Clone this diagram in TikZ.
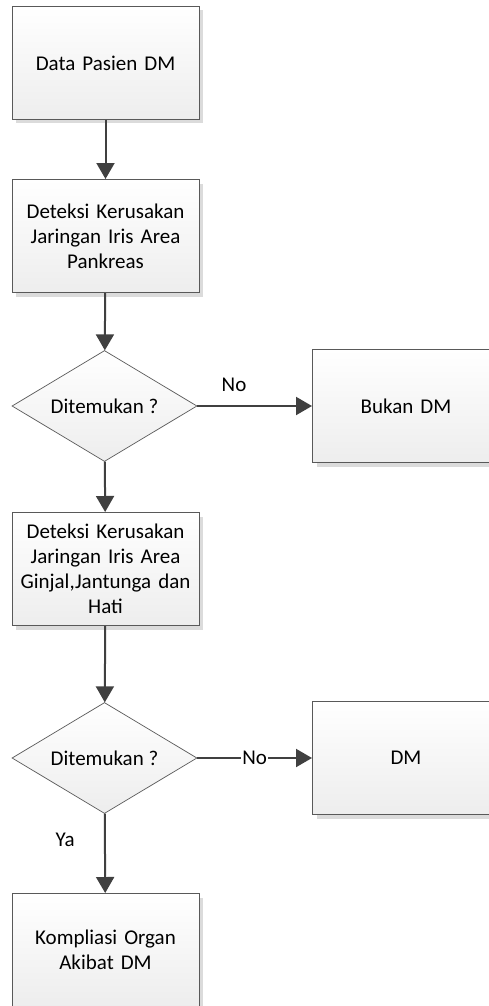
\documentclass[tikz,border=0pt]{standalone}
\usepackage{fontspec}
\setmainfont{Carlito}
\usetikzlibrary{shapes.geometric,shadows,arrows.meta}

\definecolor{garis}{RGB}{89,89,89}
\definecolor{panah}{RGB}{64,64,64}

\tikzset{
  proses/.style={rectangle, draw=garis, line width=1pt, top color=white, bottom color=black!7,
    minimum width=187pt, minimum height=113pt, inner sep=2pt, align=center, text width=180pt,
    font=\fontsize{21}{25}\selectfont,
    drop shadow={shadow xshift=4pt, shadow yshift=-4pt, fill=black!14, opacity=1}},
  keputusan/.style={diamond, draw=garis, line width=0.7pt, top color=white, bottom color=black!7,
    minimum width=185pt, minimum height=111pt, aspect=1.67, inner sep=0pt,
    font=\fontsize{21}{25}\selectfont},
  alur/.style={draw=panah, line width=2pt, -{Triangle[width=18pt,length=16pt]}},
  label/.style={font=\fontsize{21}{25}\selectfont}
}

\begin{document}
\begin{tikzpicture}[x=1pt,y=-1pt]
  \clip (0,0) rectangle (489,1006);
  \useasboundingbox (0,0) rectangle (489,1006);

  % Nodes
  \node[proses] (data) at (105.5,63) {Data Pasien DM};
  \node[proses] (deteksiA) at (105.5,236) {Deteksi Kerusakan\\Jaringan Iris Area\\Pankreas};
  \node[keputusan] (cekA) at (104.5,406) {Ditemukan ?};
  \node[proses] (bukan) at (406,406) {Bukan DM};
  \node[proses] (deteksiB) at (105.5,569) {Deteksi Kerusakan\\Jaringan Iris Area\\Ginjal,Jantunga dan\\Hati};
  \node[keputusan] (cekB) at (104.5,758) {Ditemukan ?};
  \node[proses] (dm) at (406,758) {DM};
  \node[proses] (komplikasi) at (105.5,950) {Kompliasi Organ\\Akibat DM};

  % Connectors
  \draw[alur] (data) -- (deteksiA);
  \draw[alur] (deteksiA) -- (cekA);
  \draw[alur] (cekA) -- node[label, above, pos=0.32, yshift=10pt] {No} (bukan);
  \draw[alur] (cekA) -- (deteksiB);
  \draw[alur] (deteksiB) -- (cekB);
  \draw[alur] (cekB) -- node[label, fill=white, inner sep=1pt, pos=0.5] {No} (dm);
  \draw[alur] (cekB) -- node[label, left=26pt, pos=0.33] {Ya} (komplikasi);
\end{tikzpicture}
\end{document}
